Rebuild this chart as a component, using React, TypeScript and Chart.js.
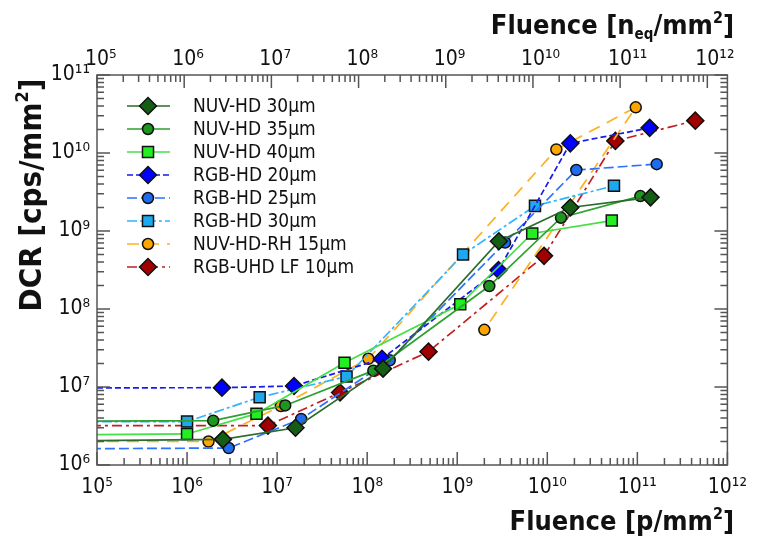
import React, { useEffect, useRef } from "react";
import { Chart, registerables } from "chart.js";
import { drawPoint } from "chart.js/helpers";

Chart.register(...registerables);

// ---- data (fluence in p/mm², DCR in cps/mm²) ----
const seriesNames = [
  "NUV-HD 30µm",
  "NUV-HD 35µm",
  "NUV-HD 40µm",
  "RGB-HD 20µm",
  "RGB-HD 25µm",
  "RGB-HD 30µm",
  "NUV-HD-RH 15µm",
  "RGB-UHD LF 10µm",
];

const nuvHd30Fluence = [1e4, 2.5e6, 1.6e7, 1.5e8, 2.9e9, 1.8e10, 1.4e11];
const nuvHd30Dcr = [2.0e6, 2.13e6, 3.0e6, 1.72e7, 7.4e8, 2.0e9, 2.7e9];

const nuvHd35Fluence = [1e4, 1.95e6, 1.23e7, 1.17e8, 2.27e9, 1.42e10, 1.08e11];
const nuvHd35Dcr = [3.6e6, 3.7e6, 5.8e6, 1.62e7, 1.97e8, 1.48e9, 2.8e9];

const nuvHd40Fluence = [1e4, 1.0e6, 5.9e6, 5.6e7, 1.08e9, 6.8e9, 5.2e10];
const nuvHd40Dcr = [2.4e6, 2.5e6, 4.55e6, 2.05e7, 1.15e8, 9.3e8, 1.36e9];

const rgbHd20Fluence = [1e4, 2.44e6, 1.54e7, 1.46e8, 2.87e9, 1.8e10, 1.37e11];
const rgbHd20Dcr = [9.7e6, 9.8e6, 1.03e7, 2.3e7, 3.16e8, 1.33e10, 2.1e10];

const rgbHd25Fluence = [1e4, 2.9e6, 1.85e7, 1.78e8, 3.4e9, 2.1e10, 1.64e11];
const rgbHd25Dcr = [1.6e6, 1.65e6, 3.9e6, 2.2e7, 7.1e8, 6.05e9, 7.2e9];

const rgbHd30Fluence = [1e4, 1.0e6, 6.4e6, 5.9e7, 1.16e9, 7.3e9, 5.5e10];
const rgbHd30Dcr = [3.6e6, 3.6e6, 7.4e6, 1.36e7, 5.0e8, 2.1e9, 3.8e9];

const nuvHdRh15Fluence = [1e4, 1.73e6, 1.1e7, 1.03e8, 1.26e10, 9.6e10, 2.0e9];
const nuvHdRh15Dcr = [2.0e6, 2.0e6, 5.7e6, 2.3e7, 1.11e10, 3.85e10, 5.4e7];

const rgbUhdLf10Fluence = [1e4, 7.9e6, 5.0e7, 4.8e8, 9.2e9, 5.7e10, 4.4e11];
const rgbUhdLf10Dcr = [3.2e6, 3.2e6, 8.5e6, 2.84e7, 4.8e8, 1.43e10, 2.6e10];

const xTickValues = [1e5, 1e6, 1e7, 1e8, 1e9, 1e10, 1e11, 1e12];
const x2TickValues = [1e5, 1e6, 1e7, 1e8, 1e9, 1e10, 1e11, 1e12];
const yTickValues = [1e6, 1e7, 1e8, 1e9, 1e10, 1e11];

// ---- styles ----
const FONT = '"DejaVu Sans Condensed", "DejaVu Sans", sans-serif';
const seriesStyles = [
  { line: "#2b6b2b", fill: "#155c15", shape: "rectRot", r: 8.5, dash: [] as number[] },
  { line: "#2ea12e", fill: "#1f961f", shape: "circle", r: 5.5, dash: [] as number[] },
  { line: "#44e044", fill: "#22ee22", shape: "rect", r: 7.8, dash: [] as number[] },
  { line: "#1a1aee", fill: "#0000ff", shape: "rectRot", r: 8.5, dash: [6, 3] },
  { line: "#2a72ff", fill: "#1f6cf0", shape: "circle", r: 5.5, dash: [10, 4] },
  { line: "#2fb4ff", fill: "#1ea8f0", shape: "rect", r: 7.8, dash: [10, 3, 3, 3] },
  { line: "#ffb020", fill: "#ffa500", shape: "circle", r: 5.5, dash: [12, 8] },
  { line: "#c02020", fill: "#a00000", shape: "rectRot", r: 8.5, dash: [10, 4, 3, 4] },
];

const seriesX = [
  nuvHd30Fluence, nuvHd35Fluence, nuvHd40Fluence, rgbHd20Fluence,
  rgbHd25Fluence, rgbHd30Fluence, nuvHdRh15Fluence, rgbUhdLf10Fluence,
];
const seriesY = [
  nuvHd30Dcr, nuvHd35Dcr, nuvHd40Dcr, rgbHd20Dcr,
  rgbHd25Dcr, rgbHd30Dcr, nuvHdRh15Dcr, rgbUhdLf10Dcr,
];

const SUP: Record<string, string> = {
  "0": "⁰", "1": "¹", "2": "²", "3": "³", "4": "⁴",
  "5": "⁵", "6": "⁶", "7": "⁷", "8": "⁸", "9": "⁹", "-": "⁻",
};
function powLabel(v: number): string {
  const e = Math.round(Math.log10(v));
  if (Math.abs(v - Math.pow(10, e)) > 1e-6 * v) return "";
  return "10" + String(e).split("").map((c) => SUP[c]).join("");
}
function powLabelTop(v: number): string {
  const s = powLabel(v);
  if (!s) return s;
  const n = s.length - 2;
  return "\u2009".repeat(2 * n) + s;
}

type Part = { text: string; size: number; dy: number };
function partsWidth(ctx: CanvasRenderingContext2D, parts: Part[]) {
  let w = 0;
  for (const p of parts) {
    ctx.font = `bold ${p.size}px ${FONT}`;
    w += ctx.measureText(p.text).width;
  }
  return w;
}
function drawParts(ctx: CanvasRenderingContext2D, parts: Part[], x: number, y: number) {
  let cx = x;
  ctx.textAlign = "left";
  ctx.textBaseline = "alphabetic";
  for (const p of parts) {
    ctx.font = `bold ${p.size}px ${FONT}`;
    ctx.fillText(p.text, cx, y + p.dy);
    cx += ctx.measureText(p.text).width;
  }
}

const decorPlugin = {
  id: "decor",
  afterDatasetsDraw(chart: any) {
    const ctx: CanvasRenderingContext2D = chart.ctx;
    const { left, right, top, bottom } = chart.chartArea;
    const xs = chart.scales.x;
    const x2 = chart.scales.x2;
    const ys = chart.scales.y;
    ctx.save();
    ctx.strokeStyle = "#555";
    ctx.lineWidth = 1.5;
    ctx.setLineDash([]);
    ctx.beginPath();
    for (let d = 5; d <= 12; d++) {
      for (let m = 1; m <= 9; m++) {
        const v = m * Math.pow(10, d);
        const px = xs.getPixelForValue(v);
        if (px < left - 0.5 || px > right + 0.5) continue;
        const len = m === 1 ? 13 : 7;
        ctx.moveTo(px, bottom);
        ctx.lineTo(px, bottom - len);
      }
    }
    for (let d = 5; d <= 12; d++) {
      for (let m = 1; m <= 9; m++) {
        const v = m * Math.pow(10, d);
        const px = x2.getPixelForValue(v);
        if (px < left - 0.5 || px > right + 0.5) continue;
        const len = m === 1 ? 13 : 7;
        ctx.moveTo(px, top);
        ctx.lineTo(px, top + len);
      }
    }
    for (let d = 6; d <= 11; d++) {
      for (let m = 1; m <= 9; m++) {
        const v = m * Math.pow(10, d);
        const py = ys.getPixelForValue(v);
        if (py < top - 0.5 || py > bottom + 0.5) continue;
        const len = m === 1 ? 13 : 7;
        ctx.moveTo(left, py);
        ctx.lineTo(left + len, py);
        ctx.moveTo(right, py);
        ctx.lineTo(right - len, py);
      }
    }
    ctx.stroke();
    ctx.strokeRect(left, top, right - left, bottom - top);

    // legend
    const ds = chart.data.datasets;
    for (let i = 0; i < ds.length; i++) {
      const d = ds[i];
      const yy = 106 + i * 23;
      ctx.save();
      ctx.strokeStyle = d.borderColor;
      ctx.lineWidth = d.borderWidth;
      ctx.setLineDash(d.borderDash || []);
      ctx.beginPath();
      ctx.moveTo(127, yy);
      ctx.lineTo(170, yy);
      ctx.stroke();
      ctx.setLineDash([]);
      ctx.fillStyle = d.pointBackgroundColor;
      ctx.strokeStyle = d.pointBorderColor;
      ctx.lineWidth = d.pointBorderWidth;
      drawPoint(ctx, { pointStyle: d.pointStyle, radius: d.pointRadius, rotation: 0, borderWidth: d.pointBorderWidth } as any, 148, yy);
      ctx.restore();
      ctx.fillStyle = "#111";
      ctx.font = `19px ${FONT}`;
      ctx.textAlign = "left";
      ctx.textBaseline = "middle";
      ctx.fillText(d.label, 193, yy + 1);
    }

    // axis titles
    ctx.fillStyle = "#111";
    const bottomTitle: Part[] = [
      { text: "Fluence [p/mm", size: 27, dy: 0 },
      { text: "2", size: 16, dy: -11 },
      { text: "]", size: 27, dy: 0 },
    ];
    drawParts(ctx, bottomTitle, 734 - partsWidth(ctx, bottomTitle), 530);

    const topTitle: Part[] = [
      { text: "Fluence [n", size: 27, dy: 0 },
      { text: "eq", size: 15, dy: 5 },
      { text: "/mm", size: 27, dy: 0 },
      { text: "2", size: 16, dy: -11 },
      { text: "]", size: 27, dy: 0 },
    ];
    drawParts(ctx, topTitle, 734 - partsWidth(ctx, topTitle), 34);

    const yTitle: Part[] = [
      { text: "DCR [cps/mm", size: 31, dy: 0 },
      { text: "2", size: 18, dy: -13 },
      { text: "]", size: 31, dy: 0 },
    ];
    ctx.save();
    ctx.translate(41, 195);
    ctx.rotate(-Math.PI / 2);
    drawParts(ctx, yTitle, -partsWidth(ctx, yTitle) / 2, 0);
    ctx.restore();

    ctx.restore();
  },
};

export default function App() {
  const ref = useRef<HTMLCanvasElement | null>(null);
  useEffect(() => {
    if (!ref.current) return;
    const datasets = seriesNames.map((name, i) => {
      const s = seriesStyles[i];
      return {
        label: name,
        data: seriesX[i].map((x, j) => ({ x, y: seriesY[i][j] })),
        borderColor: s.line,
        backgroundColor: s.fill,
        borderWidth: 1.7,
        borderDash: s.dash,
        pointStyle: s.shape,
        pointRadius: s.r,
        pointHoverRadius: s.r,
        pointBackgroundColor: s.fill,
        pointBorderColor: "#111",
        pointBorderWidth: 1.5,
        tension: 0,
        fill: false,
      };
    });
    const tickFont = { family: FONT, size: 21 };
    const chart = new Chart(ref.current, {
      type: "line",
      data: { datasets } as any,
      plugins: [decorPlugin],
      options: {
        responsive: false,
        animation: false,
        events: [],
        layout: { padding: { left: 0, right: 21, top: 0, bottom: 0 } },
        plugins: { legend: { display: false }, tooltip: { enabled: false } },
        scales: {
          x: {
            type: "logarithmic",
            position: "bottom",
            min: 1e5,
            max: 1e12,
            grid: { display: false, drawTicks: false },
            border: { display: false },
            ticks: {
              autoSkip: false,
              maxRotation: 0,
              padding: 10,
              color: "#111",
              font: tickFont,
              callback: (v: any) => powLabel(Number(v)),
            },
            afterBuildTicks: (s: any) => {
              s.ticks = xTickValues.map((v) => ({ value: v }));
            },
            afterFit: (s: any) => {
              s.height = 77;
            },
          },
          x2: {
            type: "logarithmic",
            position: "top",
            min: 1e5,
            max: 1.7e12,
            grid: { display: false, drawTicks: false },
            border: { display: false },
            ticks: {
              autoSkip: false,
              maxRotation: 0,
              padding: 3,
              color: "#111",
              font: tickFont,
              callback: (v: any) => powLabelTop(Number(v)),
            },
            afterBuildTicks: (s: any) => {
              s.ticks = x2TickValues.map((v) => ({ value: v }));
            },
            afterFit: (s: any) => {
              s.height = 75;
            },
          },
          y: {
            type: "logarithmic",
            position: "left",
            min: 1e6,
            max: 1e11,
            grid: { display: false, drawTicks: false },
            border: { display: false },
            ticks: {
              autoSkip: false,
              padding: 7,
              color: "#111",
              font: tickFont,
              callback: (v: any) => powLabel(Number(v)),
            },
            afterBuildTicks: (s: any) => {
              s.ticks = yTickValues.map((v) => ({ value: v }));
            },
            afterFit: (s: any) => {
              s.width = 97;
            },
          },
        },
      } as any,
    });
    return () => chart.destroy();
  }, []);
  return (
    <div style={{ position: "absolute", left: 0, top: 0, width: 757, height: 542, background: "#fff" }}>
      <canvas ref={ref} width={757} height={542} style={{ display: "block" }} />
    </div>
  );
}
